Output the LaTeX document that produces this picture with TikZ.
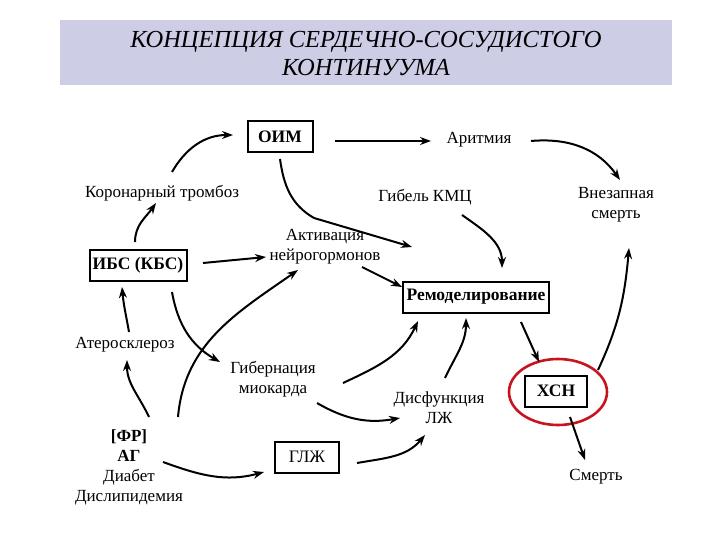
\documentclass[tikz,border=0pt]{standalone}
\usepackage{fontspec}
\setmainfont{Liberation Serif}
\usetikzlibrary{arrows.meta,calc}
\definecolor{titlebg}{RGB}{205,205,230}
\definecolor{ringred}{RGB}{200,20,30}
\tikzset{
  lbl/.style={font=\fontsize{17}{20}\selectfont, align=center, inner sep=1pt},
  boxn/.style={draw, line width=2pt, font=\fontsize{17.5}{20}\selectfont\bfseries, minimum height=31pt, inner sep=3pt},
  arr/.style={line width=2pt, -{Stealth[length=11pt,width=8pt]}}
}
\begin{document}
\begin{tikzpicture}[x=1pt,y=-1pt]
\useasboundingbox (0,0) rectangle (720,540);
\fill[white] (0,0) rectangle (720,540);
\node[fill=titlebg, minimum width=612pt, minimum height=65pt, inner sep=0pt] (title) at (366,52.5) {};
\node[font=\fontsize{24.5}{28}\selectfont\itshape, align=center] (ttext) at (366,54) {КОНЦЕПЦИЯ СЕРДЕЧНО-СОСУДИСТОГО\\КОНТИНУУМА};

\node[boxn, minimum width=65pt] (oim) at (280,137) {ОИМ};
\node[lbl] (arit) at (479,140) {Аритмия};
\node[lbl] (kor) at (162,193) {Коронарный тромбоз};
\node[lbl] (gib) at (425,197) {Гибель КМЦ};
\node[lbl] (vnez) at (616,205) {Внезапная\\смерть};
\node[lbl] (akt) at (325,247) {Активация\\нейрогормонов};
\node[boxn, minimum width=97pt] (ibs) at (138,265) {ИБС (КБС)};
\node[boxn, minimum width=146pt] (remod) at (476,297) {Ремоделирование};
\node[lbl] (ater) at (125,345) {Атеросклероз};
\node[lbl] (giber) at (273,379) {Гибернация\\миокарда};
\node[lbl] (dis) at (439,408) {Дисфункция\\ЛЖ};
\node[boxn, minimum width=62pt] (hsn) at (556,391) {ХСН};
\draw[ringred, line width=2.6pt] (558,392) ellipse [x radius=49pt, y radius=33pt];
\node[lbl] (fr) at (129,467) {\textbf{[ФР]}\\\textbf{АГ}\\Диабет\\Дислипидемия};
\node[boxn, minimum width=64pt, font=\fontsize{17.5}{20}\selectfont] (glj) at (307,457) {ГЛЖ};
\node[lbl] (smert) at (596,477) {Смерть};

\coordinate (k1) at ($(akt)+(-11,-29)$);
\draw[arr] ($(kor)+(10,-21)$) to[out=60,in=180] ($(oim)+(-47,-2)$);
\draw[arr] ($(ibs)+(-3,-23)$) to[out=90,in=235] ($(kor)+(-6,10)$);
\draw[arr] ($(oim)+(55,4)$) -- ($(arit)+(-48,1)$);
\draw[arr] ($(arit)+(52,1)$) to[out=5,in=125] ($(vnez)+(4,-25)$);
\draw[arr] ($(oim)+(0,22)$) to[out=-82,in=150] (k1) -- ($(remod)+(-64,-50)$);
\draw[arr] ($(gib)+(37,18)$) to[out=-35,in=90] ($(remod)+(26,-29)$);
\draw[arr] ($(ibs)+(65,-2)$) -- ($(akt)+(-59,10)$);
\draw[arr] ($(akt)+(37,20)$) -- ($(remod)+(-74,-10)$);
\draw[arr] ($(ibs)+(34,27)$) to[out=-80,in=150] ($(giber)+(-53,-17)$);
\draw[arr] ($(ater)+(4,-13)$) to[out=100,in=-85] ($(ibs)+(-16,22)$);
\draw[arr] ($(fr)+(20,-50)$) to[out=115,in=-90] ($(ater)+(2,15)$);
\draw[arr] ($(fr)+(49,-50)$) to[out=85,in=215] ($(akt)+(-27,23)$);
\draw[arr] ($(fr)+(34,-5)$) to[out=-20,in=195] ($(glj)+(-43,15)$);
\draw[arr] ($(glj)+(50,6)$) to[out=10,in=230] ($(dis)+(-14,27)$);
\draw[arr] ($(giber)+(44,24)$) to[out=-30,in=190] ($(dis)+(-39,10)$);
\draw[arr] ($(giber)+(70,4)$) to[out=25,in=245] ($(remod)+(-58,24)$);
\draw[arr] ($(dis)+(6,-30)$) to[out=65,in=-90] ($(remod)+(-10,21)$);
\draw[arr] ($(remod)+(45,25)$) -- ($(hsn)+(-17,-29)$);
\draw[arr] ($(hsn)+(42,-21)$) to[out=65,in=-95] ($(vnez)+(13,43)$);
\draw[arr] ($(hsn)+(14,26)$) -- ($(smert)+(-11,-17)$);
\end{tikzpicture}
\end{document}
